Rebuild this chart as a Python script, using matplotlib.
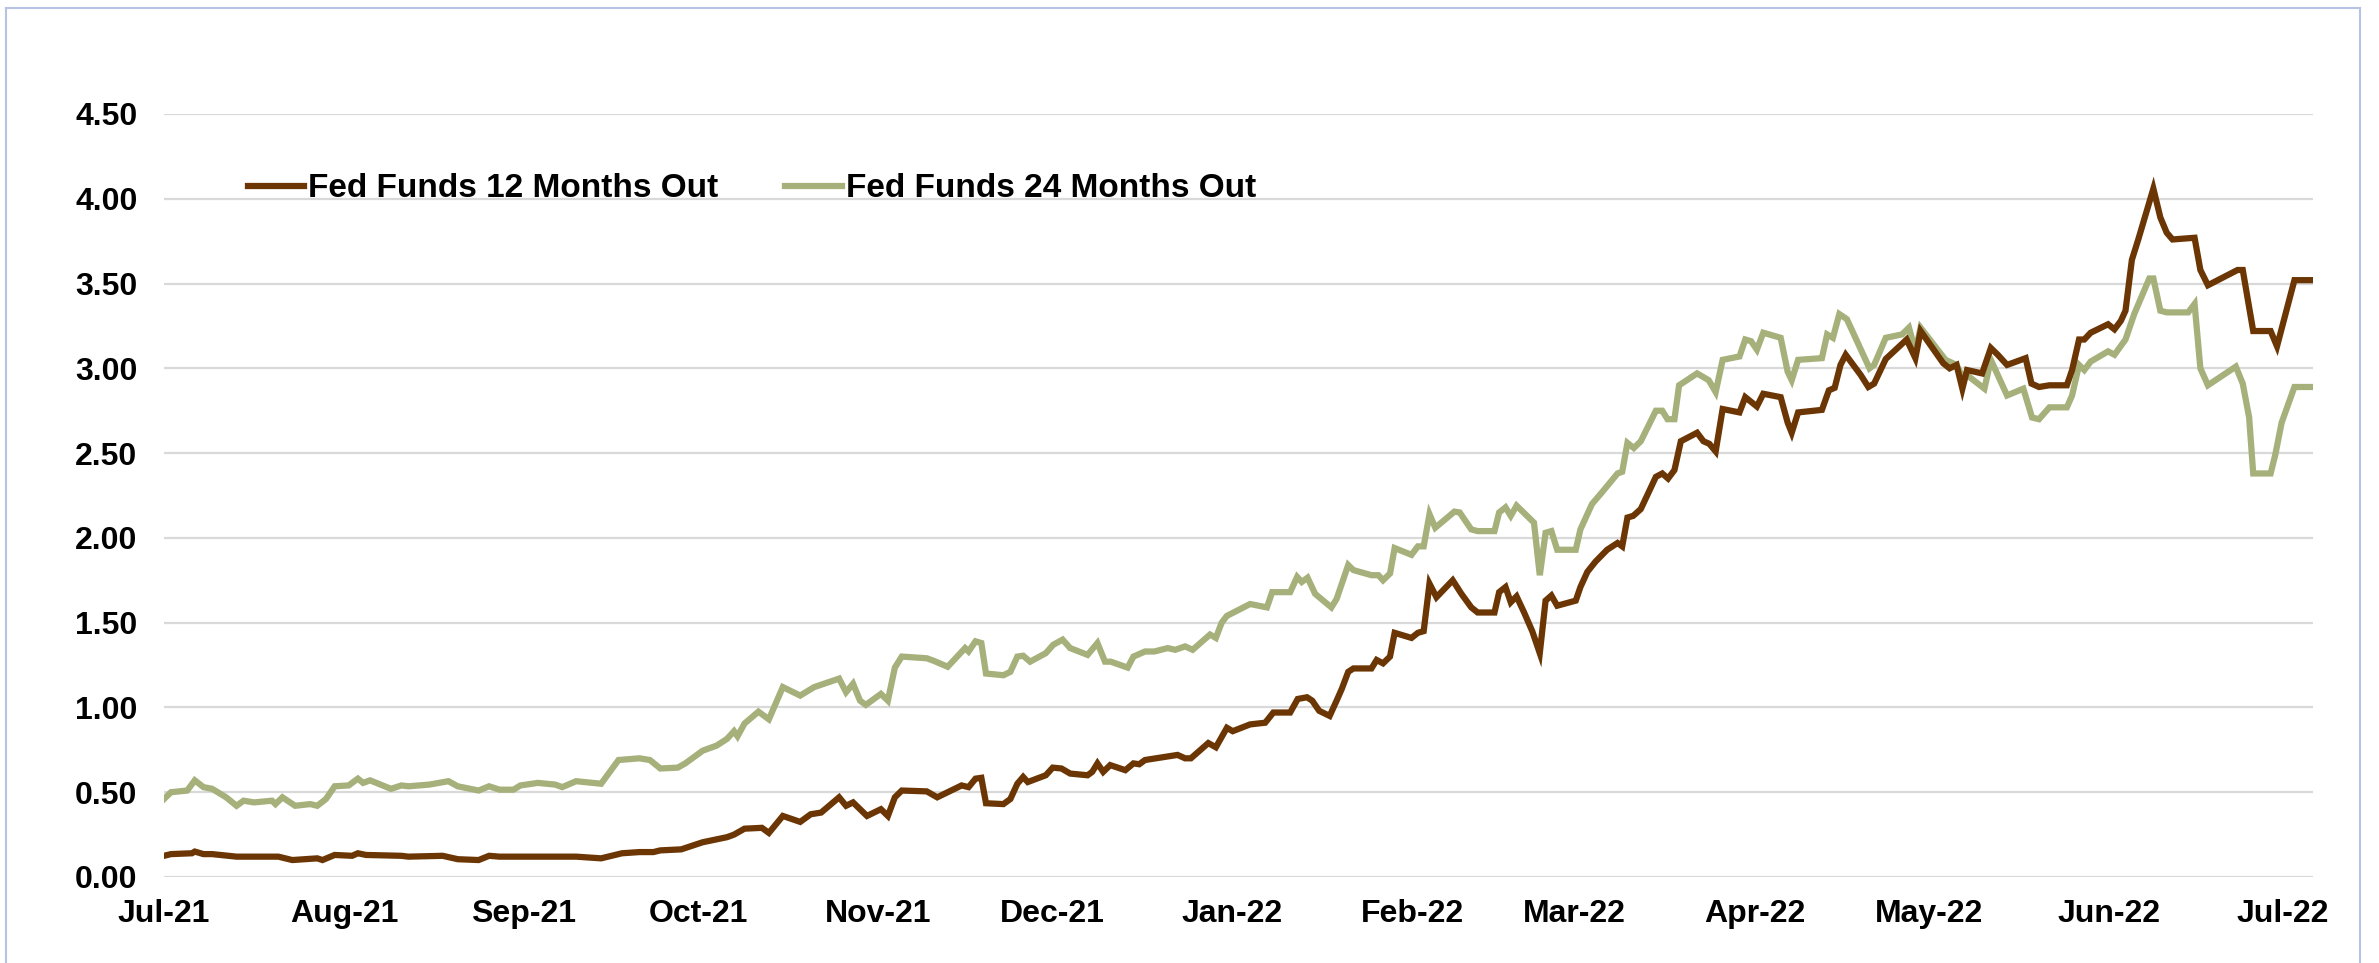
"""Fed funds futures implied rate, 12 and 24 months out (Jul-21 to Jul-22)."""

import matplotlib

matplotlib.use("Agg")
import matplotlib.pyplot as plt
import matplotlib.dates as mdates
import numpy as np
import pandas as pd
from matplotlib.lines import Line2D

plt.rcParams["font.family"] = ["Liberation Sans", "DejaVu Sans"]

START = pd.Timestamp("2021-07-01")

# days after START
days_12m = [
    0, 1.2, 4.8, 5.3, 6.8, 8.3, 12.5, 17.9, 19.7, 22.1, 26.4, 27.3, 29.4, 32.4, 33.4, 34.8,
    40.9, 42.1, 48, 50.6, 54.2, 56, 57.8, 63.8, 71, 75.3, 78.9, 81.9, 84.3, 85.5, 89.1,
    92.8, 97, 98.2, 100, 103, 104.2, 106.6, 109.6, 111.4, 113.2, 116.3, 117.5, 118.7,
    121.1, 123.5, 124.7, 125.9, 127.1, 131.4, 133.2, 137.4, 138.6, 139.8, 140.8, 141.6,
    144.6, 145.8, 147, 148, 148.8, 151.9, 153.1, 154.6, 156.1, 159.1, 159.9, 160.8, 161.8,
    163, 165.6, 167, 168, 169, 174.6, 175.9, 176.9, 179.9, 181.2, 183.1, 184.1, 187.1,
    189.7, 191.1, 194, 195.3, 196.9, 197.8, 199, 200.8, 202, 202.9, 204, 204.9, 208, 208.9,
    210, 211.2, 212, 214.9, 216, 217, 218, 219.2, 222, 223.5, 225.2, 226.3, 229.2, 230,
    231.1, 232, 233, 234.3, 235.7, 237, 238, 239, 240, 243.2, 244, 245.2, 246.6, 248.6,
    250.4, 251.2, 252.1, 253.1, 254.4, 257, 258.1, 259.1, 260.2, 261.3, 264.1, 265.2,
    266.2, 267.3, 268.5, 271.4, 272.4, 274.4, 275.5, 278.5, 279.7, 280.4, 281.5, 285.6,
    286.8, 287.8, 288.8, 289.7, 292.3, 293.6, 294.6, 296.6, 300.2, 301.7, 302.6, 306.5,
    307.6, 308.8, 309.8, 310.6, 313.2, 314.7, 315.9, 317.5, 320.7, 321.7, 323, 324.8,
    327.8, 328.7, 329.9, 330.8, 331.9, 334.9, 336, 337.1, 337.9, 339, 340.1, 342.7, 343.9,
    345, 346, 349.8, 350.8, 352.1, 357.2, 358.1, 359.9, 362.9, 364, 367, 370.2,
]
fed_12m = [
    0.125, 0.135, 0.14, 0.15, 0.135, 0.135, 0.12, 0.12, 0.12, 0.10, 0.11, 0.10, 0.13, 0.125,
    0.14, 0.13, 0.125, 0.12, 0.125, 0.105, 0.10, 0.125, 0.12, 0.12, 0.12, 0.11, 0.14, 0.147,
    0.147, 0.157, 0.163, 0.205, 0.235, 0.25, 0.285, 0.29, 0.26, 0.36, 0.325, 0.37, 0.38,
    0.47, 0.42, 0.44, 0.36, 0.40, 0.36, 0.47, 0.51, 0.505, 0.47, 0.54, 0.53, 0.58, 0.585,
    0.435, 0.43, 0.46, 0.55, 0.59, 0.56, 0.60, 0.645, 0.64, 0.61, 0.60, 0.62, 0.67, 0.62,
    0.66, 0.63, 0.67, 0.665, 0.69, 0.72, 0.70, 0.70, 0.79, 0.765, 0.88, 0.86, 0.90, 0.91,
    0.97, 0.97, 1.05, 1.06, 1.04, 0.98, 0.95, 1.04, 1.11, 1.21, 1.23, 1.23, 1.28, 1.26,
    1.30, 1.44, 1.41, 1.44, 1.45, 1.73, 1.65, 1.75, 1.67, 1.59, 1.56, 1.56, 1.68, 1.71,
    1.62, 1.655, 1.56, 1.45, 1.32, 1.63, 1.66, 1.60, 1.63, 1.71, 1.80, 1.86, 1.93, 1.97,
    1.95, 2.12, 2.13, 2.17, 2.36, 2.38, 2.35, 2.40, 2.57, 2.62, 2.57, 2.555, 2.51, 2.76,
    2.74, 2.83, 2.775, 2.85, 2.83, 2.68, 2.62, 2.74, 2.755, 2.87, 2.885, 3.02, 3.08, 2.96,
    2.89, 2.91, 3.055, 3.17, 3.06, 3.22, 3.03, 3.00, 3.02, 2.88, 2.99, 2.97, 3.12, 3.08,
    3.02, 3.06, 2.91, 2.89, 2.90, 2.90, 2.99, 3.17, 3.17, 3.21, 3.26, 3.23, 3.28, 3.34,
    3.64, 3.76, 4.06, 3.89, 3.80, 3.76, 3.77, 3.58, 3.49, 3.58, 3.58, 3.22, 3.22, 3.13,
    3.52, 3.52,
]

days_24m = [
    0, 1.2, 4, 5.3, 6.8, 8.3, 10.7, 12.5, 13.7, 15.5, 18.6, 19.2, 20.4, 22.6, 25.2, 26.4,
    27.9, 29.4, 31.8, 33.4, 34.3, 35.5, 39.1, 40.9, 42.1, 45.7, 49, 50.6, 54.2, 56, 57.8,
    60.2, 61.4, 64.4, 67.4, 68.6, 71, 75.3, 78.3, 81.9, 83.7, 85.5, 88.5, 89.8, 92.8, 95.2,
    97, 98.2, 98.8, 100, 102.4, 104.2, 106.6, 109.6, 112, 116.3, 117.5, 118.7, 119.9,
    120.9, 123.5, 124.7, 125.9, 127.1, 131.4, 132.6, 135, 138, 138.6, 139.8, 140.8, 141.6,
    144.6, 145.8, 147, 148, 149.2, 151.9, 153.2, 154.8, 156.1, 159.1, 160.8, 162.1, 163.1,
    166, 167, 169, 170.6, 172.9, 174.2, 175.9, 177.2, 180.2, 181.2, 182.2, 183.1, 187.1,
    188.6, 190, 190.9, 194, 195.2, 196, 197, 198.3, 201.1, 202, 204, 204.9, 208, 209.2,
    210, 211.2, 212, 214.9, 216, 217, 218, 219, 222.3, 223.2, 225.2, 226.3, 229.2, 230,
    231.1, 232, 233, 236, 237, 238, 239, 240, 243.2, 244, 246, 247.5, 250.4, 251.2, 252.1,
    253.2, 254.4, 257, 258.1, 259, 260.2, 261, 264.1, 266.1, 267.3, 268.5, 271.4, 272.4,
    273.4, 274.4, 275.5, 278.5, 279.7, 280.4, 281.5, 285.6, 286.5, 287.5, 288.6, 289.9,
    293.8, 294.6, 296.6, 299.4, 300.6, 301.7, 302.6, 306.9, 308.8, 309.8, 310.6, 313.6,
    314.7, 315.9, 317.5, 320.3, 321.8, 323, 324.8, 327.8, 328.7, 329.9, 330.8, 331.9,
    334.9, 336, 337.9, 339.4, 342, 342.7, 343.9, 345, 348.7, 349.8, 350.8, 352.1, 356.9,
    358.1, 359.2, 359.9, 362.9, 363.7, 364.8, 367, 370.2,
]
fed_24m = [
    0.46, 0.50, 0.51, 0.57, 0.53, 0.52, 0.47, 0.42, 0.45, 0.44, 0.45, 0.43, 0.47, 0.42,
    0.43, 0.42, 0.46, 0.535, 0.54, 0.58, 0.555, 0.57, 0.52, 0.54, 0.535, 0.545, 0.565,
    0.535, 0.51, 0.535, 0.515, 0.515, 0.54, 0.555, 0.545, 0.53, 0.565, 0.55, 0.69, 0.70,
    0.69, 0.64, 0.645, 0.67, 0.745, 0.775, 0.815, 0.86, 0.83, 0.905, 0.975, 0.93, 1.12,
    1.07, 1.12, 1.17, 1.09, 1.14, 1.04, 1.015, 1.08, 1.04, 1.235, 1.30, 1.29, 1.275, 1.24,
    1.35, 1.33, 1.39, 1.38, 1.20, 1.19, 1.21, 1.30, 1.305, 1.27, 1.32, 1.37, 1.40, 1.35,
    1.31, 1.38, 1.27, 1.27, 1.235, 1.30, 1.33, 1.33, 1.35, 1.34, 1.36, 1.34, 1.43, 1.41,
    1.50, 1.54, 1.61, 1.60, 1.59, 1.68, 1.68, 1.77, 1.74, 1.765, 1.67, 1.59, 1.64, 1.84,
    1.81, 1.78, 1.78, 1.75, 1.79, 1.94, 1.90, 1.95, 1.95, 2.14, 2.06, 2.155, 2.15, 2.05,
    2.04, 2.04, 2.15, 2.18, 2.13, 2.19, 2.09, 1.78, 2.03, 2.04, 1.93, 1.93, 2.05, 2.20,
    2.26, 2.38, 2.39, 2.56, 2.53, 2.57, 2.75, 2.75, 2.70, 2.70, 2.90, 2.97, 2.93, 2.86,
    3.05, 3.07, 3.17, 3.16, 3.11, 3.21, 3.18, 2.98, 2.93, 3.05, 3.06, 3.20, 3.18, 3.32,
    3.29, 3.00, 3.02, 3.18, 3.20, 3.24, 3.10, 3.24, 3.05, 3.02, 2.95, 2.96, 2.88, 3.05,
    2.96, 2.84, 2.88, 2.71, 2.70, 2.77, 2.77, 2.84, 3.02, 2.99, 3.04, 3.10, 3.08, 3.17,
    3.32, 3.53, 3.53, 3.34, 3.33, 3.33, 3.38, 3.00, 2.90, 3.01, 2.91, 2.71, 2.38, 2.38,
    2.49, 2.68, 2.89, 2.89,
]

labels = ["Fed Funds 12 Months Out", "Fed Funds 24 Months Out"]
y_ticks = [0.0, 0.5, 1.0, 1.5, 2.0, 2.5, 3.0, 3.5, 4.0, 4.5]

BROWN = "#6b3604"
GREEN = "#a6b07b"


def to_dates(days):
    return START + pd.to_timedelta(np.asarray(days, dtype=float), unit="D")


fig = plt.figure(figsize=(23.79, 9.63), dpi=100)
ax = fig.add_axes([164 / 2379, 1 - 877 / 963, (2313 - 164) / 2379, (877 - 114) / 963])

ax.plot(to_dates(days_12m), fed_12m, color=BROWN, lw=4.5, label=labels[0],
        solid_joinstyle="miter", zorder=3)
ax.plot(to_dates(days_24m), fed_24m, color=GREEN, lw=4.5, label=labels[1],
        solid_joinstyle="miter", zorder=2)

ax.set_ylim(0, 4.5)
ax.set_yticks(y_ticks)
ax.set_yticklabels([f"{v:.2f}" for v in y_ticks])
ax.set_xlim(START, START + pd.Timedelta(days=370.2))
ax.set_xticks(pd.date_range("2021-07-01", "2022-07-01", freq="MS"))
ax.xaxis.set_major_formatter(mdates.DateFormatter("%b-%y"))

ax.grid(axis="y", color="#d9d9d9", lw=1.6)
ax.set_axisbelow(True)
for side in ax.spines.values():
    side.set_visible(False)
ax.tick_params(axis="both", length=0, labelsize=23)
ax.tick_params(axis="x", pad=16)
ax.tick_params(axis="y", pad=19)
for lab in ax.get_xticklabels() + ax.get_yticklabels():
    lab.set_fontweight("bold")

ax.legend(loc="center left", bbox_to_anchor=(0.039, 0.902), ncol=2, frameon=False,
          prop={"size": 24, "weight": "bold"}, handlelength=1.7, handletextpad=0.12,
          columnspacing=2.0, borderpad=0, borderaxespad=0)

# thin frame round the chart area
frame_kw = dict(color="#b8c2e4", lw=1.5, transform=fig.transFigure)
x0, x1, y1 = 6 / 2379, 2360 / 2379, 1 - 8 / 963
fig.lines += [
    Line2D([x0, x0], [0, y1], **frame_kw),
    Line2D([x0, x1], [y1, y1], **frame_kw),
    Line2D([x1, x1], [0, y1], **frame_kw),
]

fig.savefig("out.png", dpi=100)
